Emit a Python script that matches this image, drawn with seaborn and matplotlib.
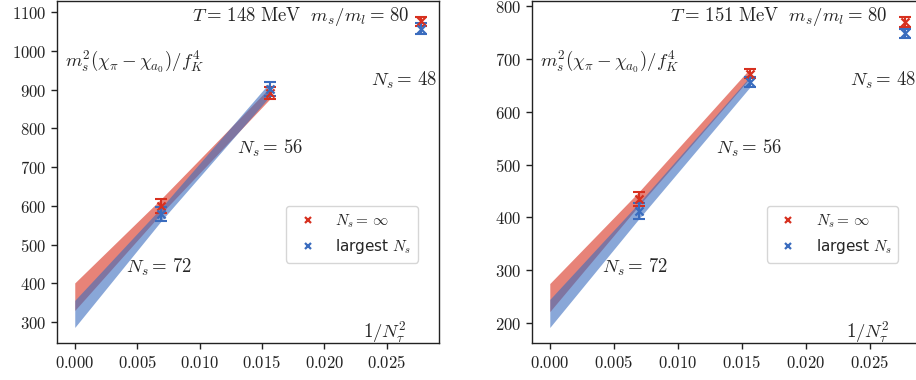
import numpy as np
import matplotlib
matplotlib.use("Agg")
import matplotlib.pyplot as plt
from matplotlib.ticker import FuncFormatter, MultipleLocator
from matplotlib.lines import Line2D
import seaborn as sns

# Lattice setup: temporal extents and the spatial size used at each one
n_tau = np.array([12, 8, 6])
n_s_labels = [72, 56, 48]
temperatures = [148, 151]
ms_over_ml = 80

# T = 148 MeV: infinite-volume extrapolation and largest available volume
y148_inf = [600, 891, 1077]
e148_inf = [19, 15, 11]
y148_big = [579, 901, 1058]
e148_big = [17, 18, 14]
# continuum-fit band edges at 1/N_tau^2 = 0 (low, high)
band148_inf_at0 = [330, 401]
band148_big_at0 = [286, 356]

# T = 151 MeV
y151_inf = [435, 672, 770]
e151_inf = [13, 9, 9]
y151_big = [412, 656, 748]
e151_big = [15, 10, 9]
band151_inf_at0 = [222, 275]
band151_big_at0 = [192, 245]

RED = "#d7301f"
BLUE = "#3a6cbe"

sns.set_theme(style="ticks")
plt.rcParams["font.family"] = ["DejaVu Sans"]
plt.rcParams["mathtext.fontset"] = "cm"
plt.rcParams["axes.edgecolor"] = "#222222"
plt.rcParams["xtick.color"] = "#222222"
plt.rcParams["ytick.color"] = "#222222"

fig = plt.figure(figsize=(9.16, 3.80), dpi=100)
ax_left = fig.add_axes([0.0627, 0.0974, 0.4163, 0.8987])
ax_right = fig.add_axes([0.5808, 0.0974, 0.4269, 0.8987])

x = 1.0 / n_tau.astype(float) ** 2
x_fit = np.array([0.0, x[0], x[1]])

# per panel: axes, T, data, band edges at 0, x-position of the N_s=48 tag
panels = [
    (ax_left, temperatures[0], y148_inf, e148_inf, y148_big, e148_big,
     band148_inf_at0, band148_big_at0, 0.822),
    (ax_right, temperatures[1], y151_inf, e151_inf, y151_big, e151_big,
     band151_inf_at0, band151_big_at0, 0.812),
]

for ax, T, yi, ei, yb, eb, bi0, bb0, tag48_x in panels:
    yi, ei, yb, eb = map(np.asarray, (yi, ei, yb, eb))
    # fit bands from 1/N_tau^2 = 0 through the two finest lattices
    for y, e, b0, c in ((yi, ei, bi0, RED), (yb, eb, bb0, BLUE)):
        lo = np.array([b0[0], y[0] - e[0], y[1] - e[1]])
        hi = np.array([b0[1], y[0] + e[0], y[1] + e[1]])
        ax.fill_between(x_fit, lo, hi, color=c, alpha=0.6, lw=0, zorder=1)

    for y, e, c in ((yi, ei, RED), (yb, eb, BLUE)):
        ax.errorbar(x, y, yerr=e, fmt="none", ecolor=c, elinewidth=1.5,
                    capsize=4.5, capthick=1.5, zorder=3)
        sns.scatterplot(x=x, y=y, marker="x", color=c, s=34, linewidth=1.6,
                        ax=ax, zorder=4, legend=False)

    ax.yaxis.set_major_locator(MultipleLocator(100))
    ax.xaxis.set_major_locator(MultipleLocator(0.005))
    ax.xaxis.set_major_formatter(FuncFormatter(lambda v, p: f"${v:.3f}$"))
    ax.yaxis.set_major_formatter(FuncFormatter(lambda v, p: f"${v:.0f}$"))
    ax.tick_params(labelsize=12, length=4.5, width=1)
    for s in ax.spines.values():
        s.set_linewidth(1.0)

    fs = 13.5
    ax.text(0.352, 0.955, rf"$T=\,{T}\ \mathrm{{MeV}}\ \ m_s/m_l=\,{ms_over_ml}$",
            transform=ax.transAxes, ha="left", va="center", fontsize=fs)
    ax.text(0.020, 0.824, r"$m_s^2(\chi_\pi-\chi_{a_0})/f_K^4$",
            transform=ax.transAxes, ha="left", va="center", fontsize=fs)
    ax.text(tag48_x, 0.770, rf"$N_s=\,{n_s_labels[2]}$",
            transform=ax.transAxes, ha="left", va="center", fontsize=fs)
    ax.text(0.471, 0.571, rf"$N_s=\,{n_s_labels[1]}$",
            transform=ax.transAxes, ha="left", va="center", fontsize=fs)
    ax.text(0.180, 0.220, rf"$N_s=\,{n_s_labels[0]}$",
            transform=ax.transAxes, ha="left", va="center", fontsize=fs)
    ax.text(0.802, 0.032, r"$1/N_\tau^2$",
            transform=ax.transAxes, ha="left", va="center", fontsize=fs)

    handles = [
        Line2D([], [], marker="x", ls="none", color=RED, ms=5, mew=1.6),
        Line2D([], [], marker="x", ls="none", color=BLUE, ms=5, mew=1.6),
    ]
    ax.legend(handles, [r"$N_s=\,\infty$", r"largest $N_s$"], loc="upper left",
              bbox_to_anchor=(0.60, 0.401), borderaxespad=0, fontsize=11,
              frameon=True, edgecolor="#cccccc")

fig.savefig("out.png", dpi=100)
